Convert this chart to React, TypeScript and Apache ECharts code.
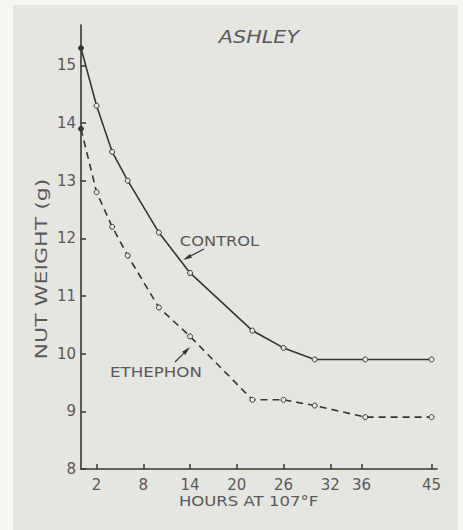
import React, { useEffect, useRef } from "react";
import * as echarts from "echarts";

const title = "ASHLEY";
const xAxisName = "HOURS AT 107°F";
const yAxisName = "NUT WEIGHT (g)";
const xTicks = [2, 8, 14, 20, 26, 32, 36, 45];
const yTicks = [8, 9, 10, 11, 12, 13, 14, 15];
const hours = [0, 2, 4, 6, 10, 14, 22, 26, 30, 36.5, 45];
const controlWeight = [15.3, 14.3, 13.5, 13.0, 12.1, 11.4, 10.4, 10.1, 9.9, 9.9, 9.9];
const ethephonWeight = [13.9, 12.8, 12.2, 11.7, 10.8, 10.3, 9.2, 9.2, 9.1, 8.9, 8.9];

const BG = "#e5e5e2";
const INK = "#363636";
const TEXT = "#5a5a5a";
const FONT = "DejaVu Sans";

function arrow(x1: number, y1: number, x2: number, y2: number) {
  const dx = x2 - x1;
  const dy = y2 - y1;
  const len = Math.sqrt(dx * dx + dy * dy);
  const ux = dx / len;
  const uy = dy / len;
  const hl = 9;
  const hw = 2.2;
  const bx = x2 - ux * hl;
  const by = y2 - uy * hl;
  return [
    {
      type: "line",
      shape: { x1, y1, x2: bx, y2: by },
      style: { stroke: INK, lineWidth: 1.2 },
      z: 10,
    },
    {
      type: "polygon",
      shape: {
        points: [
          [x2, y2],
          [bx - uy * hw, by + ux * hw],
          [bx + uy * hw, by - ux * hw],
        ],
      },
      style: { fill: INK },
      z: 10,
    },
  ];
}

function label(
  text: string,
  x: number,
  y: number,
  size: number,
  sx: number,
  opts: { italic?: boolean; rotation?: number } = {}
) {
  return {
    type: "text",
    x,
    y,
    scaleX: sx,
    rotation: opts.rotation || 0,
    style: {
      text,
      fill: TEXT,
      font: `${opts.italic ? "italic " : ""}${size}px "${FONT}"`,
      align: "center",
      verticalAlign: "middle",
    },
    z: 10,
  };
}

function buildData(ws: number[]) {
  return hours.map((h, i) =>
    i === 0
      ? { value: [h, ws[i]], itemStyle: { color: INK, borderColor: INK } }
      : { value: [h, ws[i]] }
  );
}

export default function App() {
  const ref = useRef<HTMLDivElement>(null);
  useEffect(() => {
    if (!ref.current) return;
    const chart = echarts.init(ref.current, undefined, { renderer: "svg" });
    const seriesCommon = {
      type: "line",
      symbol: "circle",
      symbolSize: 5,
      showSymbol: true,
      itemStyle: { color: BG, borderColor: INK, borderWidth: 1 },
      z: 3,
    };
    chart.setOption({
      animation: false,
      backgroundColor: "#f6f6f4",
      grid: { left: 81, right: 26, top: 25, bottom: 61, containLabel: false },
      xAxis: {
        type: "value",
        min: 0,
        max: 45.7,
        splitLine: { show: false },
        axisLine: { show: true, lineStyle: { color: INK, width: 1.6 } },
        axisTick: {
          show: true,
          inside: true,
          length: 5,
          customValues: xTicks,
          lineStyle: { color: INK, width: 1.5 },
        },
        axisLabel: {
          customValues: xTicks,
          color: TEXT,
          fontFamily: FONT,
          fontSize: 15,
          margin: 8,
        },
      },
      yAxis: {
        type: "value",
        min: 8,
        max: 15.7,
        splitLine: { show: false },
        axisLine: { show: true, lineStyle: { color: INK, width: 1.6 } },
        axisTick: {
          show: true,
          inside: true,
          length: 5,
          customValues: yTicks,
          lineStyle: { color: INK, width: 1.5 },
        },
        axisLabel: {
          customValues: yTicks,
          color: TEXT,
          fontFamily: FONT,
          fontSize: 15,
          margin: 5,
        },
      },
      graphic: [
        {
          type: "rect",
          shape: { x: 13, y: 5, width: 445, height: 530 },
          style: { fill: BG },
          z: -10,
          silent: true,
        },
        label(title, 259, 37, 17, 1.22, { italic: true }),
        label("CONTROL", 219.5, 241, 14, 1.16),
        label("ETHEPHON", 156, 372, 14, 1.19),
        label(xAxisName, 248.5, 501, 14, 1.18),
        label(yAxisName, 42, 269, 16, 1.38, { rotation: Math.PI / 2 }),
        ...arrow(204, 249, 183, 260),
        ...arrow(175, 362, 190, 347),
      ],
      series: [
        {
          ...seriesCommon,
          name: "CONTROL",
          data: buildData(controlWeight),
          lineStyle: { color: INK, width: 1.6, type: "solid" },
        },
        {
          ...seriesCommon,
          name: "ETHEPHON",
          data: buildData(ethephonWeight),
          lineStyle: { color: INK, width: 1.6, type: [7, 5] },
        },
      ],
    });
    return () => chart.dispose();
  }, []);
  return (
    <div
      ref={ref}
      style={{ position: "fixed", left: 0, top: 0, width: 463, height: 530 }}
    />
  );
}
